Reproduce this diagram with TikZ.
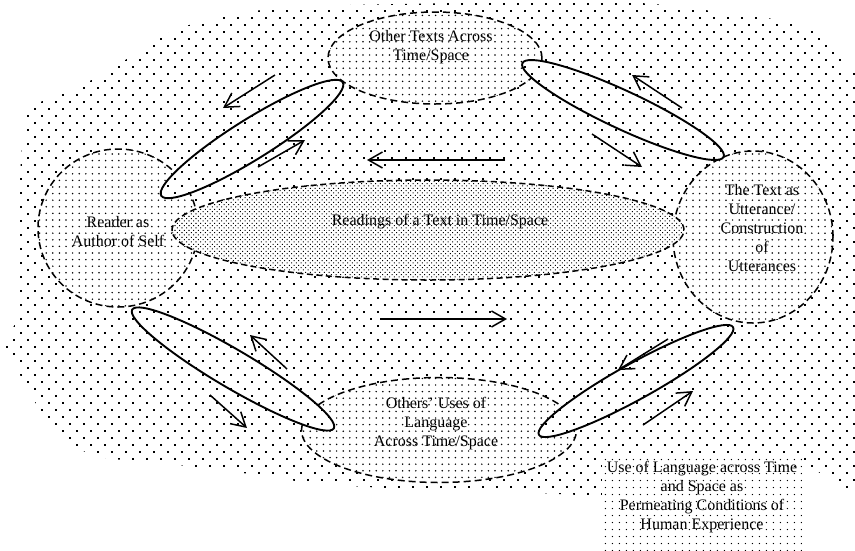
\documentclass[tikz,border=0pt]{standalone}
\usepackage{fontspec}
\setmainfont{Liberation Serif}
\usetikzlibrary{shapes.geometric, patterns.meta, arrows.meta}

\begin{document}
\begin{tikzpicture}[x=1pt, y=-1pt,
  every node/.style={font=\fontsize{16}{19}\selectfont},
  bgdots/.style={pattern={Dots[distance=9.9pt, angle=45, radius=1.15pt]}},
  finedots/.style={pattern={Dots[distance=6.6pt, radius=0.85pt]}},
  densedots/.style={pattern={Dots[distance=3.3pt, angle=45, radius=0.72pt]}},
  boxdots/.style={pattern={Dots[distance=7.4pt, radius=0.75pt]}},
  realm/.style={ellipse, inner sep=0pt, draw, line width=1.5pt,
    dash pattern=on 7pt off 4pt, preaction={fill=white}, finedots},
  readings/.style={ellipse, inner sep=0pt, draw, line width=1.5pt,
    dash pattern=on 6pt off 3.5pt, preaction={fill=white}, densedots},
  cycleoval/.style={ellipse, inner sep=0pt, draw, line width=1.9pt,
    preaction={fill=white}, bgdots},
  flow/.style={line width=1.5pt, -{Straight Barb[length=14pt, width=16pt]}},
  txt/.style={align=center, inner sep=0pt}]

\useasboundingbox (0,0) rectangle (855,550);
\clip (0,0) rectangle (855,550);

% dotted field in which everything sits
\path[bgdots] plot[smooth cycle, tension=0.45] coordinates {
  (5,345) (19,312) (18,240) (20,175) (28,112) (65,92) (100,76) (130,57)
  (175,30) (225,16) (290,7) (400,4) (520,2) (640,3) (720,12) (790,22)
  (830,40) (846,70) (860,100) (860,468) (805,468) (700,485) (600,495)
  (520,492) (430,490) (320,484) (250,474) (170,464) (100,457) (65,440)
  (40,410) (20,375)};

% conditions box
\node[rectangle, inner sep=0pt, minimum width=200pt, minimum height=95pt,
  preaction={fill=white}, boxdots] (condbox) at (702,505) {};

% the four realms
\node[realm, minimum width=214pt, minimum height=92pt]  (others)  at (435,58)  {};
\node[realm, minimum width=160pt, minimum height=158pt] (reader)  at (118,228) {};
\node[realm, minimum width=160pt, minimum height=172pt] (utter)   at (753,237) {};
\node[realm, minimum width=275pt, minimum height=105pt] (uses)    at (439,430) {};

% central ellipse
\node[readings, minimum width=512pt, minimum height=100pt] (readings) at (428,230) {};

% exchange loops
\node[cycleoval, minimum width=214pt, minimum height=40pt, rotate=32]   (loopUL) at (252,139) {};
\node[cycleoval, minimum width=222pt, minimum height=38pt, rotate=-25]  (loopUR) at (623,110) {};
\node[cycleoval, minimum width=234pt, minimum height=38pt, rotate=-30.5](loopLL) at (233,369) {};
\node[cycleoval, minimum width=222pt, minimum height=36pt, rotate=29]   (loopLR) at (636,381) {};

% arrow end points
\coordinate (a1s) at (275,75);  \coordinate (a1e) at (223,108);
\coordinate (a2s) at (258,167); \coordinate (a2e) at (305,140);
\coordinate (a3s) at (505,160); \coordinate (a3e) at (367,160);
\coordinate (a4s) at (682,108); \coordinate (a4e) at (632,75);
\coordinate (a5s) at (592,134); \coordinate (a5e) at (642,167);
\coordinate (a6s) at (380,319); \coordinate (a6e) at (507,319);
\coordinate (a7s) at (287,369); \coordinate (a7e) at (250,335);
\coordinate (a8s) at (210,395); \coordinate (a8e) at (247,428);
\coordinate (a9s) at (668,339); \coordinate (a9e) at (618,370);
\coordinate (a10s) at (643,425); \coordinate (a10e) at (693,391);

\draw[flow] (a1s) -- (a1e);
\draw[flow] (a2s) -- (a2e);
\draw[flow] (a3s) -- (a3e);
\draw[flow] (a4s) -- (a4e);
\draw[flow] (a5s) -- (a5e);
\draw[flow] (a6s) -- (a6e);
\draw[flow] (a7s) -- (a7e);
\draw[flow] (a8s) -- (a8e);
\draw[flow] (a9s) -- (a9e);
\draw[flow] (a10s) -- (a10e);

% labels
\node[txt] (othersT)   at (431,47)  {Other Texts Across\\Time/Space};
\node[txt] (readerT)   at (118,232) {Reader as\\Author of Self};
\node[txt] (readingsT) at (440,222) {Readings of a Text in Time/Space};
\node[txt] (utterT)    at (762,228) {The Text as\\Utterance/\\Construction\\of\\Utterances};
\node[txt] (usesT)     at (436,424) {Others' Uses of\\Language\\Across Time/Space};
\node[txt] (condT)     at (702,497) {Use of Language across Time\\and Space as\\Permeating Conditions of\\Human Experience};
\end{tikzpicture}
\end{document}
